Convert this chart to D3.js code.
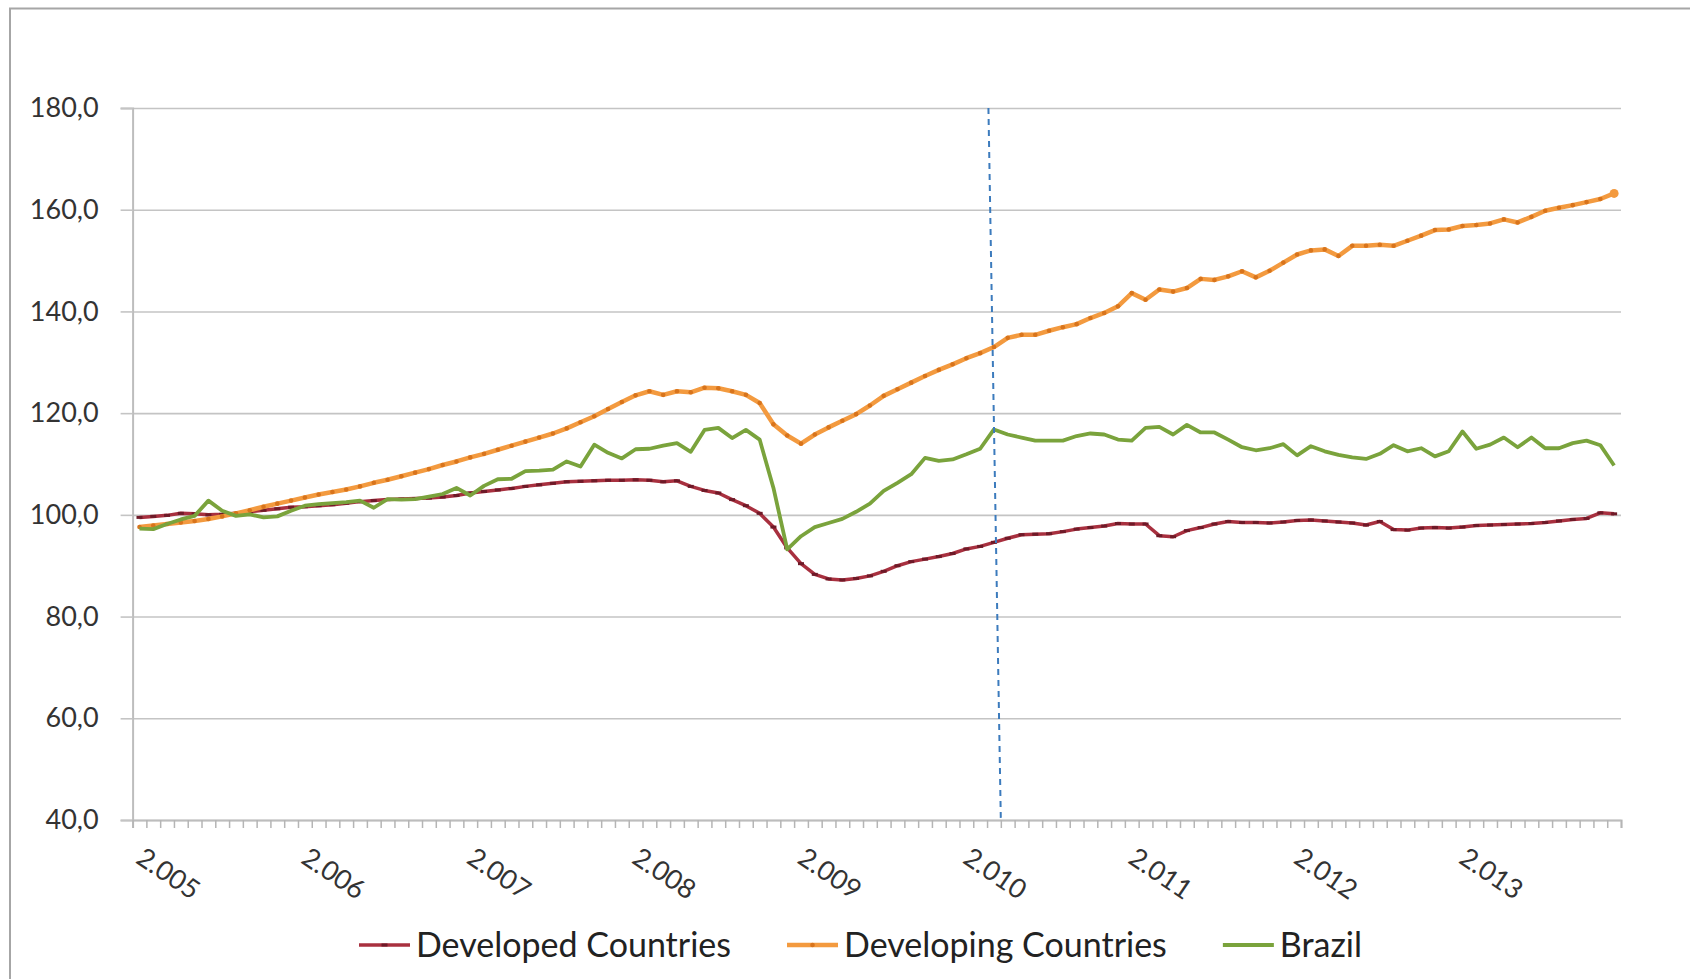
<!DOCTYPE html>
<html>
<head>
<meta charset="utf-8">
<script src="https://cdn.jsdelivr.net/npm/d3@7"></script>
<style>
  html, body { margin: 0; padding: 0; background: #fff; }
  svg { display: block; font-family: Lato, "Open Sans", sans-serif; }
</style>
</head>
<body>
<div id="chart"></div>
<script>
// monthly index, Jan 2005 .. Dec 2013
const years = [2005, 2006, 2007, 2008, 2009, 2010, 2011, 2012, 2013];
const yearLabels = ["2.005", "2.006", "2.007", "2.008", "2.009", "2.010", "2.011", "2.012", "2.013"];
const yTicks = [40, 60, 80, 100, 120, 140, 160, 180];

const developed = [
  99.5, 99.7, 99.9, 100.3, 100.2, 100.0, 100.1, 100.3, 100.6, 100.9, 101.2, 101.5,
  101.6, 101.8, 102.0, 102.3, 102.6, 102.8, 103.0, 103.1, 103.2, 103.3, 103.5, 103.8,
  104.3, 104.6, 104.9, 105.2, 105.6, 105.9, 106.2, 106.5, 106.6, 106.7, 106.8, 106.8,
  106.9, 106.8, 106.5, 106.7, 105.6, 104.8, 104.3, 103.0, 101.8, 100.3, 97.6, 93.5,
  90.4, 88.3, 87.4, 87.2, 87.5, 88.0, 88.9, 90.0, 90.8, 91.3, 91.8, 92.4,
  93.3, 93.8, 94.6, 95.4, 96.1, 96.2, 96.3, 96.7, 97.2, 97.5, 97.8, 98.3,
  98.2, 98.2, 95.9, 95.7, 96.9, 97.5, 98.2, 98.7, 98.5, 98.5, 98.4, 98.6,
  98.9, 99.0, 98.8, 98.6, 98.4, 98.0, 98.7, 97.1, 97.0, 97.4, 97.5, 97.4,
  97.6, 97.9, 98.0, 98.1, 98.2, 98.3, 98.5, 98.8, 99.1, 99.3, 100.4, 100.2
];

const developing = [
  97.6, 97.9, 98.2, 98.5, 98.8, 99.2, 99.7, 100.3, 100.9, 101.6, 102.2, 102.8,
  103.4, 104.0, 104.5, 105.0, 105.6, 106.3, 106.9, 107.6, 108.3, 109.0, 109.8, 110.5,
  111.3, 112.0, 112.8, 113.6, 114.4, 115.2, 116.0, 117.0, 118.2, 119.4, 120.8, 122.2,
  123.5, 124.3, 123.6, 124.3, 124.1, 125.0, 124.9, 124.3, 123.6, 122.0, 117.8, 115.6,
  114.0, 115.8, 117.2, 118.5, 119.8, 121.5, 123.4, 124.7, 126.0, 127.3, 128.5, 129.6,
  130.8, 131.8, 133.0, 134.8, 135.4, 135.4, 136.2, 136.9, 137.5, 138.7, 139.7, 141.0,
  143.6, 142.3, 144.3, 143.9, 144.6, 146.4, 146.2, 146.9, 147.9, 146.7, 148.0, 149.6,
  151.2, 152.0, 152.2, 150.9, 152.9, 152.9, 153.1, 152.9, 153.9, 154.9, 156.0, 156.1,
  156.8, 157.0, 157.3, 158.1, 157.5, 158.6, 159.8, 160.4, 160.9, 161.5, 162.1, 163.2
];

const brazil = [
  97.3, 97.2, 98.2, 99.1, 99.8, 102.8, 100.8, 99.8, 100.1, 99.5, 99.7, 100.8,
  101.8, 102.1, 102.3, 102.5, 102.8, 101.4, 103.1, 103.0, 103.1, 103.6, 104.1, 105.3,
  103.8, 105.7, 107.0, 107.1, 108.6, 108.7, 108.9, 110.5, 109.5, 113.8, 112.2, 111.1,
  112.9, 113.0, 113.6, 114.1, 112.4, 116.7, 117.1, 115.1, 116.7, 114.8, 105.3, 93.2,
  95.8, 97.6, 98.4, 99.2, 100.6, 102.2, 104.7, 106.3, 108.0, 111.2, 110.6, 110.9,
  111.9, 113.0, 116.8, 115.8, 115.2, 114.6, 114.6, 114.6, 115.5, 116.0, 115.8, 114.8,
  114.6, 117.1, 117.3, 115.8, 117.7, 116.2, 116.2, 114.8, 113.3, 112.7, 113.1, 113.9,
  111.7, 113.5, 112.5, 111.8, 111.3, 111.0, 112.0, 113.7, 112.5, 113.1, 111.5, 112.5,
  116.4, 113.0, 113.8, 115.2, 113.3, 115.2, 113.1, 113.1, 114.1, 114.6, 113.7, 109.7
];

// hand drawn marker line, runs slightly slanted (month index at top / bottom)
const markerMonthTop = 62.1;
const markerMonthBottom = 63.0;

const months = [];
years.forEach(yr => { for (let m = 1; m <= 12; m++) months.push(yr + "-" + m); });

const series = [
  { name: "Developed Countries", values: developed, color: "#a8303f", marker: "#6e1a28", width: 3.5, dots: "dash" },
  { name: "Developing Countries", values: developing, color: "#f39a3f", marker: "#d8741c", width: 4.5, dots: "dot" },
  { name: "Brazil", values: brazil, color: "#7aa33c", width: 3.8, dots: null }
];

const W = 1690, H = 979;
const plot = { left: 132.6, right: 1621, top: 108, bottom: 820 };

const svg = d3.select("#chart").append("svg")
  .attr("width", W)
  .attr("height", H);

// chart frame (cut off on the right / bottom in the original)
svg.append("rect")
  .attr("x", 10).attr("y", 8.5)
  .attr("width", W + 20).attr("height", H + 20)
  .attr("fill", "#fff")
  .attr("stroke", "#a6a6a6")
  .attr("stroke-width", 2);

const x = d3.scaleLinear().domain([0, months.length]).range([plot.left, plot.right]);
const y = d3.scaleLinear().domain([40, 180]).range([plot.bottom, plot.top]);
const fmt = d => d.toFixed(1).replace(".", ",");

// gridlines
svg.append("g")
  .attr("transform", `translate(${plot.left},0)`)
  .call(d3.axisLeft(y).tickValues(yTicks).tickSize(-(plot.right - plot.left)).tickFormat(""))
  .call(g => g.select(".domain").remove())
  .call(g => g.selectAll("line").attr("stroke", "#c4c4c4").attr("stroke-width", 1.6));

// y axis with labels
svg.append("g")
  .attr("transform", `translate(${plot.left},0)`)
  .call(d3.axisLeft(y).tickValues(yTicks).tickSize(12).tickPadding(22).tickFormat(fmt))
  .call(g => g.select(".domain").attr("stroke", "#bdbdbd").attr("stroke-width", 2))
  .call(g => g.selectAll("line").attr("stroke", "#c4c4c4").attr("stroke-width", 1.6))
  .call(g => g.selectAll("text")
    .attr("fill", "#333")
    .style("font-size", "27px")
    .style("font-family", "Lato, sans-serif"));

// x axis: tick between every month
svg.append("g")
  .attr("transform", `translate(0,${plot.bottom})`)
  .call(d3.axisBottom(x).tickValues(d3.range(months.length + 1)).tickSize(8).tickFormat(""))
  .call(g => g.select(".domain").attr("stroke", "#bdbdbd").attr("stroke-width", 2))
  .call(g => g.selectAll("line").attr("stroke", "#b5b5b5").attr("stroke-width", 1.5));

// rotated year labels
svg.append("g").selectAll("text")
  .data(yearLabels)
  .enter().append("text")
  .attr("transform", (d, i) => `translate(${x(i * 12 + 0.5) - 5},${plot.bottom + 42}) rotate(34)`)
  .attr("text-anchor", "start")
  .attr("fill", "#333")
  .style("font-size", "27px")
  .text(d => d);

// lines
const line = d3.line()
  .x((d, i) => x(i + 0.5))
  .y(d => y(d));

series.forEach(s => {
  svg.append("path")
    .datum(s.values)
    .attr("fill", "none")
    .attr("stroke", s.color)
    .attr("stroke-width", s.width)
    .attr("stroke-linejoin", "round")
    .attr("d", line);

  if (s.dots === "dash") {
    svg.append("g").selectAll("rect")
      .data(s.values)
      .enter().append("rect")
      .attr("x", (d, i) => x(i + 0.5) - 3)
      .attr("y", d => y(d) - 1.5)
      .attr("width", 6).attr("height", 3)
      .attr("fill", s.marker);
  } else if (s.dots === "dot") {
    svg.append("g").selectAll("circle")
      .data(s.values)
      .enter().append("circle")
      .attr("cx", (d, i) => x(i + 0.5))
      .attr("cy", d => y(d))
      .attr("r", 2.3)
      .attr("fill", s.marker);
  }
});

// end point of developing series is drawn bigger
svg.append("circle")
  .attr("cx", x(developing.length - 0.5))
  .attr("cy", y(developing[developing.length - 1]))
  .attr("r", 4.5)
  .attr("fill", "#f39a3f");

// dashed vertical marker
svg.append("line")
  .attr("x1", x(markerMonthTop)).attr("y1", y(180))
  .attr("x2", x(markerMonthBottom)).attr("y2", y(40))
  .attr("stroke", "#3c7bbd")
  .attr("stroke-width", 2)
  .attr("stroke-dasharray", "6,5");

// legend
const legend = svg.append("g").attr("transform", "translate(359,945)");
let lx = 0;
series.forEach(s => {
  const item = legend.append("g").attr("transform", `translate(${lx},0)`);
  item.append("line")
    .attr("x1", 0).attr("x2", 51)
    .attr("stroke", s.color)
    .attr("stroke-width", s.width);
  if (s.dots === "dash") {
    item.append("rect").attr("x", 22.5).attr("y", -1.5).attr("width", 6).attr("height", 3).attr("fill", s.marker);
  } else if (s.dots === "dot") {
    item.append("circle").attr("cx", 25.5).attr("cy", 0).attr("r", 2.3).attr("fill", s.marker);
  }
  const t = item.append("text")
    .attr("x", 57)
    .attr("y", 12)
    .attr("fill", "#222")
    .style("font-size", "34px")
    .text(s.name);
  lx += 57 + t.node().getComputedTextLength() + 56;
});
</script>
</body>
</html>
